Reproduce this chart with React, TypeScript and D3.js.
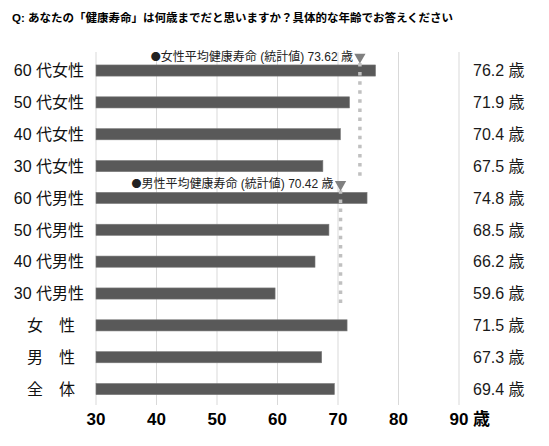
import React from 'react';
import * as d3 from 'd3';

// data
const categories = ['60 代女性', '50 代女性', '40 代女性', '30 代女性', '60 代男性', '50 代男性', '40 代男性', '30 代男性', '女　性', '男　性', '全　体'];
const values = [76.2, 71.9, 70.4, 67.5, 74.8, 68.5, 66.2, 59.6, 71.5, 67.3, 69.4];
const ticks = [30, 40, 50, 60, 70, 80, 90];
const femaleAvg = 73.62;
const maleAvg = 70.42;
const femaleRows = ['60 代女性', '30 代女性'];
const maleRows = ['60 代男性', '30 代男性'];

const W = 549;
const H = 446;
const FONT = "'Liberation Sans', Arial, 'Noto Sans CJK JP', sans-serif";
const CJK = "'Noto Sans CJK JP', sans-serif";

const App: React.FC = () => {
  const x = d3.scaleLinear().domain([30, 90]).range([96, 459]);
  const y = d3.scaleBand<string>()
    .domain(categories)
    .range([54.6, 405])
    .paddingInner(0.65)
    .paddingOuter(0.325);
  const bw = y.bandwidth();
  const fmt = d3.format('.1f');
  const tri = d3.symbol(d3.symbolTriangle, 55)();

  // average reference lines with their annotation
  const avgLines = [
    { v: femaleAvg, rows: femaleRows, label: `女性平均健康寿命 (統計値) ${femaleAvg} 歳` },
    { v: maleAvg, rows: maleRows, label: `男性平均健康寿命 (統計値) ${maleAvg} 歳` },
  ];

  return (
    <svg width={W} height={H} style={{ position: 'absolute', left: 0, top: 0, background: '#fff' }} fontFamily={FONT}>
      <text x={12} y={22} fontSize={11.5} fontWeight="bold" fill="#000">
        Q: あなたの「健康寿命」は何歳までだと思いますか？具体的な年齢でお答えください
      </text>

      {/* grid */}
      {ticks.map(t => (
        <line key={t} x1={x(t)} x2={x(t)} y1={52} y2={405} stroke="#d9d9d9" strokeWidth={1} />
      ))}

      {/* bars */}
      {categories.map((c, i) => (
        <rect key={c} x={x(30)} y={y(c)!} width={x(values[i]) - x(30)} height={bw}
          fill="#595959" stroke="#7a7a7a" strokeWidth={0.6} />
      ))}

      {/* average lines */}
      {avgLines.map(a => {
        const top = y(a.rows[0])!;
        const bottom = y(a.rows[1])! + bw;
        const cx = x(a.v);
        return (
          <g key={a.label}>
            <line x1={cx} x2={cx} y1={top - 2} y2={bottom + 6} stroke="#c0c0c0" strokeWidth={3.5} strokeDasharray="3.5 5.6" />
            <path d={tri!} transform={`translate(${cx},${top - 8}) rotate(180)`} fill="#808080" />
            <text x={cx - 7} y={top - 4} fontSize={12} textAnchor="end" fill="#222">
              <tspan fontFamily={CJK} fontSize={10}>●</tspan>{a.label}
            </text>
          </g>
        );
      })}

      {/* category labels */}
      {categories.map(c => (
        <text key={c} x={/\d/.test(c) ? 84 : 75} y={y(c)! + bw / 2} dy="0.36em" fontSize={16} textAnchor="end" fill="#111">{c}</text>
      ))}

      {/* value labels */}
      {categories.map((c, i) => (
        <text key={c} x={473} y={y(c)! + bw / 2} dy="0.36em" fontSize={16} fill="#1a1a1a">{fmt(values[i])} 歳</text>
      ))}

      {/* x axis tick labels */}
      {ticks.map(t => (
        <text key={t} x={x(t)} y={425} fontSize={17} fontWeight="bold" textAnchor="middle" fill="#000">{t}</text>
      ))}
      <text x={x(90) + 14} y={425} fontSize={17} fontWeight="bold" fill="#000" fontFamily={CJK}>歳</text>
    </svg>
  );
};

export default App;
